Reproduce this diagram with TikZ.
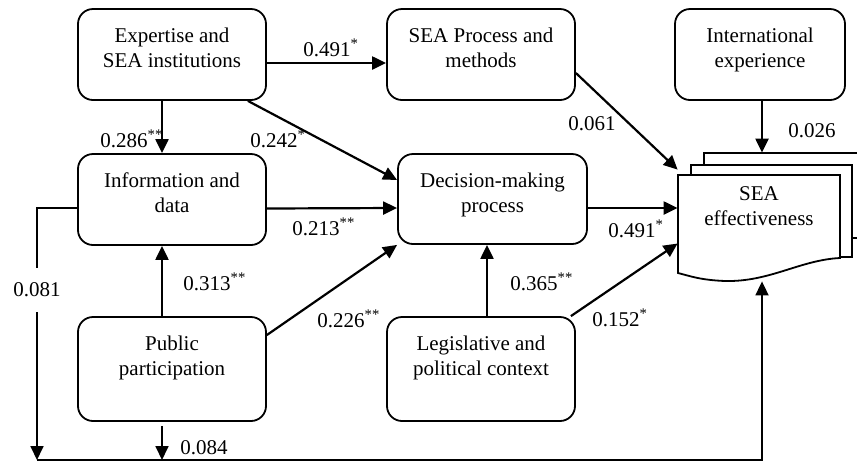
\documentclass[tikz,border=0pt]{standalone}
\usepackage{fontspec}
\setmainfont{Liberation Serif}
\usetikzlibrary{arrows.meta}
\begin{document}
\begin{tikzpicture}[x=0.5pt,y=-0.5pt,
 font=\fontsize{10.5}{12.5}\selectfont,
 box/.style={draw, line width=0.9pt, rounded corners=7.5pt, inner sep=0pt, minimum width=94pt, minimum height=45.5pt},
 txt/.style={anchor=north, inner sep=0pt, align=center},
 arr/.style={line width=1.1pt, -{Triangle[length=7pt,width=6.5pt]}},
 lnk/.style={line width=0.9pt},
 lab/.style={anchor=base west, inner sep=0pt}]
\useasboundingbox (0,0) rectangle (857,462);
% boxes
\node[box] (ex) at (172,54.5) {};
\node[box] (sp) at (481,54.5) {};
\node[box, minimum width=85pt] (ie) at (760,54.5) {};
\node[box] (inf) at (172,199.5) {};
\node[box, minimum width=94.5pt, minimum height=45pt] (dm) at (492.5,199) {};
\node[box, minimum height=52pt] (pp) at (172,369) {};
\node[box, minimum height=52pt] (lg) at (481,369) {};
% document stack
\draw[lnk, fill=white] (704,153) rectangle (870,238);
\draw[lnk, fill=white] (691,165) rectangle (852,257);
\draw[lnk, fill=white] (678,175) -- (840,175) -- (840,258)
  .. controls (800,260) and (770,282) .. (725,281)
  .. controls (700,280) and (690,276) .. (678,273) -- cycle;
\node[minimum width=81pt, minimum height=49pt, inner sep=0pt] (se) at (759,224) {};
% texts
\node[txt] (exT) at ([yshift=-9.5pt]ex.north) {Expertise and\\SEA institutions};
\node[txt] (spT) at ([yshift=-9.5pt]sp.north) {SEA Process and\\methods};
\node[txt] (ieT) at ([yshift=-9.5pt]ie.north) {International\\experience};
\node[txt] (infT) at ([yshift=-9.5pt]inf.north) {Information and\\data};
\node[txt] (dmT) at ([yshift=-9.5pt]dm.north) {Decision-making\\process};
\node[txt] (ppT) at ([yshift=-9.5pt]pp.north) {Public\\participation};
\node[txt] (lgT) at ([yshift=-9.5pt]lg.north) {Legislative and\\political context};
\node[txt] (seT) at ([yshift=-6pt]se.north) {SEA\\effectiveness};
% arrows
\draw[arr] ([yshift=-4.25pt]ex.east) -- ([yshift=-4.25pt]sp.west);
\draw[arr] ([xshift=-5pt]ex.south) -- ([xshift=-5pt]inf.north);
\draw[arr] ([xshift=-9.5pt]ex.south east) -- ([yshift=9.5pt]dm.west);
\draw[arr] ([yshift=-4.5pt]inf.east) -- ([yshift=-4.5pt]dm.west);
\draw[arr] ([xshift=-5pt]pp.north) -- ([xshift=-5pt]inf.south);
\draw[arr] ([yshift=17pt]pp.east) -- (dm.south west);
\draw[arr] ([xshift=3pt]lg.north) -- ([xshift=-2.75pt]dm.south);
\draw[arr] ([xshift=-2.5pt]lg.north east) -- ([yshift=-9.75pt]se.west);
\draw[arr] ([yshift=-4.5pt]dm.east) -- ([yshift=8pt]se.west);
\draw[arr] ([yshift=-9.25pt]sp.east) -- ([yshift=2.5pt]se.north west);
\draw[arr] ([xshift=1pt]ie.south) -- ([xshift=1.5pt,yshift=11pt]se.north);
% bottom routing
\coordinate (bl) at (37,460);
\coordinate (br) at (762,460);
\coordinate (infl) at ([yshift=-4.25pt]inf.west);
\coordinate (pps) at ([xshift=-5pt,yshift=-2pt]pp.south);
\draw[arr, line width=0.9pt] (infl) -| (bl);
\draw[arr, line width=0.9pt] (pps) -- (pps |- bl);
\draw[arr, line width=0.9pt] (bl) -- (br) -- ([xshift=1.5pt,yshift=-4pt]se.south);
% labels
\node[lab] (l1) at (303,56) {0.491\textsuperscript{*}};
\node[lab] (l2) at (100,147) {0.286\textsuperscript{**}};
\node[lab] (l3) at (250,147) {0.242\textsuperscript{*}};
\node[lab] (l4) at (292,235) {0.213\textsuperscript{**}};
\node[lab] (l5) at (608,237) {0.491\textsuperscript{*}};
\node[lab] (l6) at (568,130) {0.061};
\node[lab] (l7) at (788,137) {0.026};
\node[lab] (l8) at (183,290) {0.313\textsuperscript{**}};
\node[lab] (l9) at (317,327) {0.226\textsuperscript{**}};
\node[lab] (l10) at (510,290) {0.365\textsuperscript{**}};
\node[lab] (l11) at (592,326) {0.152\textsuperscript{*}};
\node[lab] (l12) at (180,454) {0.084};
\node[fill=white, inner xsep=1pt, inner ysep=7.5pt] (l13) at (37,290) {0.081};
\end{tikzpicture}
\end{document}
